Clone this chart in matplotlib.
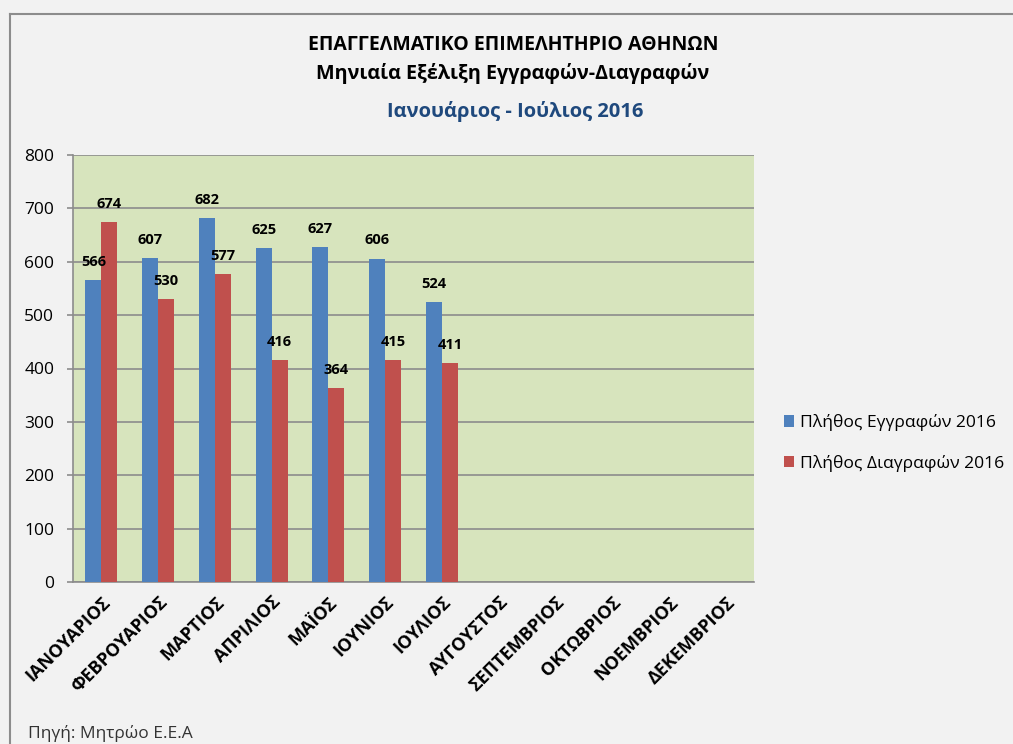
import matplotlib
matplotlib.use("Agg")
import matplotlib.pyplot as plt
import numpy as np
from matplotlib.lines import Line2D

months = ["ΙΑΝΟΥΑΡΙΟΣ", "ΦΕΒΡΟΥΑΡΙΟΣ", "ΜΑΡΤΙΟΣ", "ΑΠΡΙΛΙΟΣ", "ΜΑΪΟΣ", "ΙΟΥΝΙΟΣ",
          "ΙΟΥΛΙΟΣ", "ΑΥΓΟΥΣΤΟΣ", "ΣΕΠΤΕΜΒΡΙΟΣ", "ΟΚΤΩΒΡΙΟΣ", "ΝΟΕΜΒΡΙΟΣ", "ΔΕΚΕΜΒΡΙΟΣ"]
registrations = [566, 607, 682, 625, 627, 606, 524]
deletions = [674, 530, 577, 416, 364, 415, 411]
series_names = ["Πλήθος Εγγραφών 2016", "Πλήθος Διαγραφών 2016"]
yticks = [0, 100, 200, 300, 400, 500, 600, 700, 800]

plt.rcParams['font.family'] = ['Open Sans', 'DejaVu Sans']

W, H = 1013, 744
fig = plt.figure(figsize=(W/100, H/100), dpi=100)
fig.patch.set_facecolor('#f2f2f2')

# outer frame (left and top edges visible)
fig.add_artist(Line2D([10/W, 10/W], [0, 1-14/H], transform=fig.transFigure,
                      color='#8c8c8c', lw=1.5))
fig.add_artist(Line2D([10/W, 1], [1-14/H, 1-14/H], transform=fig.transFigure,
                      color='#8c8c8c', lw=1.5))

ax = fig.add_axes([73/W, 1-582/H, (754-73)/W, (582-155)/H])
ax.set_facecolor('#d7e4bd')

x = np.arange(len(months))
bw = 0.28
n = len(registrations)
b1 = ax.bar(x[:n] - bw/2, registrations, bw, color='#4f81bd', label=series_names[0], zorder=3)
b2 = ax.bar(x[:n] + bw/2, deletions, bw, color='#c0504d', label=series_names[1], zorder=3)

for bars in (b1, b2):
    for r in bars:
        ax.annotate(f"{int(r.get_height())}", (r.get_x() + r.get_width()/2, r.get_height()),
                    xytext=(0, 8), textcoords='offset points', ha='center', va='bottom',
                    fontsize=10.5, fontweight='bold', color='black', zorder=4)

ax.set_xlim(-0.5, len(months) - 0.5)
ax.set_ylim(0, 800)
ax.set_yticks(yticks)
ax.set_yticklabels([str(v) for v in yticks], fontsize=12.5)
ax.yaxis.grid(True, color='#8c8c8c', lw=1.2, zorder=1)
ax.set_axisbelow(True)
ax.tick_params(axis='y', length=4.5, width=1.2, color='#8c8c8c', pad=9)
ax.tick_params(axis='x', length=0, pad=8)
ax.set_xticks(x)
ax.set_xticklabels(months, rotation=45, ha='right', rotation_mode='anchor',
                   fontsize=13, fontweight='bold')
for s in ['top', 'right']:
    ax.spines[s].set_visible(False)
ax.spines['left'].set_color('#8c8c8c')
ax.spines['bottom'].set_color('#8c8c8c')
ax.spines['left'].set_linewidth(1.2)
ax.spines['bottom'].set_linewidth(1.2)

xc = 513/W
fig.text(xc, 1-45/H, "ΕΠΑΓΓΕΛΜΑΤΙΚΟ ΕΠΙΜΕΛΗΤΗΡΙΟ ΑΘΗΝΩΝ", ha='center', va='center',
         fontsize=14.0, fontweight='bold', color='black')
fig.text(xc, 1-73/H, "Μηνιαία Εξέλιξη Εγγραφών-Διαγραφών", ha='center', va='center',
         fontsize=14.2, fontweight='bold', color='black')
fig.text(xc + 2/W, 1-112/H, "Ιανουάριος - Ιούλιος 2016", ha='center', va='center',
         fontsize=14.5, fontweight='bold', color='#1f497d')

fig.legend(handles=[b1, b2], labels=series_names, loc='center left',
           bbox_to_anchor=(768/W, 1-443/H), frameon=False, fontsize=12.6,
           handlelength=0.6, handleheight=0.6, handletextpad=0.3, labelspacing=1.35)

fig.text(28/W, 1-734/H, "Πηγή: Μητρώο Ε.Ε.Α", ha='left', va='center', fontsize=12.5, color='#333333')

fig.savefig("out.png", dpi=100, facecolor=fig.get_facecolor())
